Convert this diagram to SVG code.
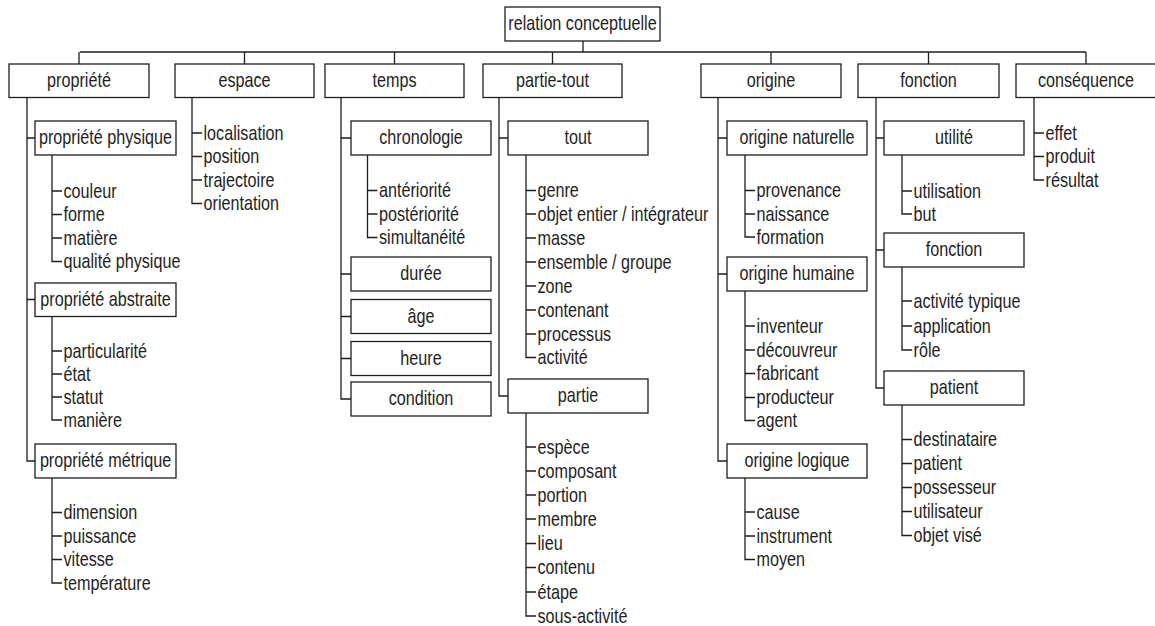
<svg xmlns="http://www.w3.org/2000/svg" width="1155" height="626" viewBox="0 0 1155 626">
<style>
.box{fill:#fff;stroke:#1e1e1e;stroke-width:1.3}
.c{fill:none;stroke:#1e1e1e;stroke-width:1.3}
text{font-family:"Liberation Sans",Arial,Helvetica,sans-serif;font-size:19.5px;fill:#1e1e1e}
.m{text-anchor:middle}
</style>
<rect width="1155" height="626" fill="#fff"/>
<g id="connectors" class="c">
<path d="M583 41V52M80 52H1086M79 52V64M244.5 52V64M394.5 52V64M552.5 52V64M771 52V64M928.5 52V64M1086 52V64"/>
<path d="M27 97.5V461H35M27 138H35M27 299.5H35"/>
<path d="M52 155V261.5H62M52 191H62M52 214.5H62M52 238H62"/>
<path d="M52 316.5V420H62M52 351H62M52 374H62M52 397H62"/>
<path d="M52 478V583H62M52 512.5H62M52 536H62M52 559.5H62"/>
<path d="M192 97.5V203.5H202M192 133H202M192 156.5H202M192 180H202"/>
<path d="M341 97.5V399H351M341 138H351M341 274H351M341 316.5H351M341 358.5H351"/>
<path d="M367.5 155V237.5H377.5M367.5 190.5H377.5M367.5 214H377.5"/>
<path d="M499 97.5V396H508M499 138H508"/>
<path d="M526 155V357.5H536M526 190.5H536M526 214H536M526 238H536M526 262H536M526 286H536M526 310H536M526 334H536"/>
<path d="M526 413V616H536M526 447H536M526 471H536M526 495H536M526 519H536M526 543.5H536M526 567.5H536M526 592H536"/>
<path d="M718 97.5V461H727M718 138H727M718 274H727"/>
<path d="M745 155V237H755M745 190.5H755M745 214H755"/>
<path d="M745 291V420.5H755M745 326H755M745 350H755M745 373.5H755M745 397.5H755"/>
<path d="M745 478V559.5H755M745 512H755M745 536H755"/>
<path d="M876 97.5V388H884M876 138H884M876 250H884"/>
<path d="M902 155V214H912M902 191H912"/>
<path d="M902 267V350H912M902 301H912M902 326H912"/>
<path d="M902 405V535.5H912M902 439.5H912M902 463.5H912M902 487.5H912M902 511.5H912"/>
<path d="M1034 97.5V180H1044M1034 133H1044M1034 156.5H1044"/>
</g>
<g id="root"><rect class="box" x="505" y="7" width="155" height="34"/><text class="m" transform="translate(582.5 30) scale(.83 1)">relation conceptuelle</text></g>
<g id="propriete"><rect class="box" x="9" y="64" width="140" height="33.5"/><text class="m" transform="translate(79 87) scale(.83 1)">propriété</text></g>
<g id="espace"><rect class="box" x="175" y="64" width="139" height="33.5"/><text class="m" transform="translate(244.5 87) scale(.83 1)">espace</text></g>
<g id="temps"><rect class="box" x="325" y="64" width="139" height="33.5"/><text class="m" transform="translate(394.5 87) scale(.83 1)">temps</text></g>
<g id="partie-tout"><rect class="box" x="483" y="64" width="139" height="33.5"/><text class="m" transform="translate(552.5 87) scale(.83 1)">partie-tout</text></g>
<g id="origine"><rect class="box" x="701" y="64" width="140" height="33.5"/><text class="m" transform="translate(771 87) scale(.83 1)">origine</text></g>
<g id="fonction"><rect class="box" x="858" y="64" width="141" height="33.5"/><text class="m" transform="translate(928.5 87) scale(.83 1)">fonction</text></g>
<g id="consequence"><rect class="box" x="1016" y="64" width="140" height="33.5"/><text class="m" transform="translate(1086 87) scale(.83 1)">conséquence</text></g>
<g id="propriete-physique"><rect class="box" x="35" y="121" width="141" height="34"/><text class="m" transform="translate(105.5 144) scale(.83 1)">propriété physique</text></g>
<g id="propriete-abstraite"><rect class="box" x="35" y="283" width="141" height="33.5"/><text class="m" transform="translate(105.5 306) scale(.83 1)">propriété abstraite</text></g>
<g id="propriete-metrique"><rect class="box" x="35" y="444" width="141" height="34"/><text class="m" transform="translate(105.5 467) scale(.83 1)">propriété métrique</text></g>
<g id="chronologie"><rect class="box" x="351" y="121" width="140" height="34"/><text class="m" transform="translate(421 144) scale(.83 1)">chronologie</text></g>
<g id="duree"><rect class="box" x="351" y="257" width="140" height="34"/><text class="m" transform="translate(421 280) scale(.83 1)">durée</text></g>
<g id="age"><rect class="box" x="351" y="299.5" width="140" height="34"/><text class="m" transform="translate(421 322.5) scale(.83 1)">âge</text></g>
<g id="heure"><rect class="box" x="351" y="341.5" width="140" height="34"/><text class="m" transform="translate(421 364.5) scale(.83 1)">heure</text></g>
<g id="condition"><rect class="box" x="351" y="382" width="140" height="34"/><text class="m" transform="translate(421 405) scale(.83 1)">condition</text></g>
<g id="tout"><rect class="box" x="508" y="121" width="140" height="34"/><text class="m" transform="translate(578 144) scale(.83 1)">tout</text></g>
<g id="partie"><rect class="box" x="508" y="379" width="140" height="34"/><text class="m" transform="translate(578 402) scale(.83 1)">partie</text></g>
<g id="origine-naturelle"><rect class="box" x="727" y="121" width="140" height="34"/><text class="m" transform="translate(797 144) scale(.83 1)">origine naturelle</text></g>
<g id="origine-humaine"><rect class="box" x="727" y="257" width="140" height="34"/><text class="m" transform="translate(797 280) scale(.83 1)">origine humaine</text></g>
<g id="origine-logique"><rect class="box" x="727" y="444" width="140" height="34"/><text class="m" transform="translate(797 467) scale(.83 1)">origine logique</text></g>
<g id="utilite"><rect class="box" x="884" y="121" width="140" height="34"/><text class="m" transform="translate(954 144) scale(.83 1)">utilité</text></g>
<g id="fonction2"><rect class="box" x="884" y="233" width="140" height="34"/><text class="m" transform="translate(954 256) scale(.83 1)">fonction</text></g>
<g id="patient"><rect class="box" x="884" y="371" width="140" height="34"/><text class="m" transform="translate(954 394) scale(.83 1)">patient</text></g>
<g id="leaves-physique">
<g id="l-couleur"><text transform="translate(63.5 197.5) scale(.83 1)">couleur</text></g>
<g id="l-forme"><text transform="translate(63.5 221) scale(.83 1)">forme</text></g>
<g id="l-matiere"><text transform="translate(63.5 244.5) scale(.83 1)">matière</text></g>
<g id="l-qualite"><text transform="translate(63.5 268) scale(.83 1)">qualité physique</text></g>
</g>
<g id="leaves-abstraite">
<g id="l-particularite"><text transform="translate(63.5 357.5) scale(.83 1)">particularité</text></g>
<g id="l-etat"><text transform="translate(63.5 380.5) scale(.83 1)">état</text></g>
<g id="l-statut"><text transform="translate(63.5 403.5) scale(.83 1)">statut</text></g>
<g id="l-maniere"><text transform="translate(63.5 426.5) scale(.83 1)">manière</text></g>
</g>
<g id="leaves-metrique">
<g id="l-dimension"><text transform="translate(63.5 519) scale(.83 1)">dimension</text></g>
<g id="l-puissance"><text transform="translate(63.5 542.5) scale(.83 1)">puissance</text></g>
<g id="l-vitesse"><text transform="translate(63.5 566) scale(.83 1)">vitesse</text></g>
<g id="l-temperature"><text transform="translate(63.5 589.5) scale(.83 1)">température</text></g>
</g>
<g id="leaves-espace">
<g id="l-localisation"><text transform="translate(203.5 139.5) scale(.83 1)">localisation</text></g>
<g id="l-position"><text transform="translate(203.5 163) scale(.83 1)">position</text></g>
<g id="l-trajectoire"><text transform="translate(203.5 186.5) scale(.83 1)">trajectoire</text></g>
<g id="l-orientation"><text transform="translate(203.5 210) scale(.83 1)">orientation</text></g>
</g>
<g id="leaves-chronologie">
<g id="l-anteriorite"><text transform="translate(379 197) scale(.83 1)">antériorité</text></g>
<g id="l-posteriorite"><text transform="translate(379 220.5) scale(.83 1)">postériorité</text></g>
<g id="l-simultaneite"><text transform="translate(379 244) scale(.83 1)">simultanéité</text></g>
</g>
<g id="leaves-tout">
<g id="l-genre"><text transform="translate(537.5 197) scale(.83 1)">genre</text></g>
<g id="l-objet"><text transform="translate(537.5 220.5) scale(.83 1)">objet entier / intégrateur</text></g>
<g id="l-masse"><text transform="translate(537.5 244.5) scale(.83 1)">masse</text></g>
<g id="l-ensemble"><text transform="translate(537.5 268.5) scale(.83 1)">ensemble / groupe</text></g>
<g id="l-zone"><text transform="translate(537.5 292.5) scale(.83 1)">zone</text></g>
<g id="l-contenant"><text transform="translate(537.5 316.5) scale(.83 1)">contenant</text></g>
<g id="l-processus"><text transform="translate(537.5 340.5) scale(.83 1)">processus</text></g>
<g id="l-activite"><text transform="translate(537.5 364) scale(.83 1)">activité</text></g>
</g>
<g id="leaves-partie">
<g id="l-espece"><text transform="translate(537.5 453.5) scale(.83 1)">espèce</text></g>
<g id="l-composant"><text transform="translate(537.5 477.5) scale(.83 1)">composant</text></g>
<g id="l-portion"><text transform="translate(537.5 501.5) scale(.83 1)">portion</text></g>
<g id="l-membre"><text transform="translate(537.5 525.5) scale(.83 1)">membre</text></g>
<g id="l-lieu"><text transform="translate(537.5 550) scale(.83 1)">lieu</text></g>
<g id="l-contenu"><text transform="translate(537.5 574) scale(.83 1)">contenu</text></g>
<g id="l-etape"><text transform="translate(537.5 598.5) scale(.83 1)">étape</text></g>
<g id="l-sous-activite"><text transform="translate(537.5 622.5) scale(.83 1)">sous-activité</text></g>
</g>
<g id="leaves-naturelle">
<g id="l-provenance"><text transform="translate(756.5 197) scale(.83 1)">provenance</text></g>
<g id="l-naissance"><text transform="translate(756.5 220.5) scale(.83 1)">naissance</text></g>
<g id="l-formation"><text transform="translate(756.5 243.5) scale(.83 1)">formation</text></g>
</g>
<g id="leaves-humaine">
<g id="l-inventeur"><text transform="translate(756.5 332.5) scale(.83 1)">inventeur</text></g>
<g id="l-decouvreur"><text transform="translate(756.5 356.5) scale(.83 1)">découvreur</text></g>
<g id="l-fabricant"><text transform="translate(756.5 380) scale(.83 1)">fabricant</text></g>
<g id="l-producteur"><text transform="translate(756.5 404) scale(.83 1)">producteur</text></g>
<g id="l-agent"><text transform="translate(756.5 427) scale(.83 1)">agent</text></g>
</g>
<g id="leaves-logique">
<g id="l-cause"><text transform="translate(756.5 518.5) scale(.83 1)">cause</text></g>
<g id="l-instrument"><text transform="translate(756.5 542.5) scale(.83 1)">instrument</text></g>
<g id="l-moyen"><text transform="translate(756.5 566) scale(.83 1)">moyen</text></g>
</g>
<g id="leaves-utilite">
<g id="l-utilisation"><text transform="translate(913.5 197.5) scale(.83 1)">utilisation</text></g>
<g id="l-but"><text transform="translate(913.5 220.5) scale(.83 1)">but</text></g>
</g>
<g id="leaves-fonction">
<g id="l-activite-typique"><text transform="translate(913.5 307.5) scale(.83 1)">activité typique</text></g>
<g id="l-application"><text transform="translate(913.5 332.5) scale(.83 1)">application</text></g>
<g id="l-role"><text transform="translate(913.5 356.5) scale(.83 1)">rôle</text></g>
</g>
<g id="leaves-patient">
<g id="l-destinataire"><text transform="translate(913.5 446) scale(.83 1)">destinataire</text></g>
<g id="l-patient"><text transform="translate(913.5 470) scale(.83 1)">patient</text></g>
<g id="l-possesseur"><text transform="translate(913.5 494) scale(.83 1)">possesseur</text></g>
<g id="l-utilisateur"><text transform="translate(913.5 518) scale(.83 1)">utilisateur</text></g>
<g id="l-objet-vise"><text transform="translate(913.5 542) scale(.83 1)">objet visé</text></g>
</g>
<g id="leaves-consequence">
<g id="l-effet"><text transform="translate(1045.5 139.5) scale(.83 1)">effet</text></g>
<g id="l-produit"><text transform="translate(1045.5 163) scale(.83 1)">produit</text></g>
<g id="l-resultat"><text transform="translate(1045.5 186.5) scale(.83 1)">résultat</text></g>
</g>
</svg>
